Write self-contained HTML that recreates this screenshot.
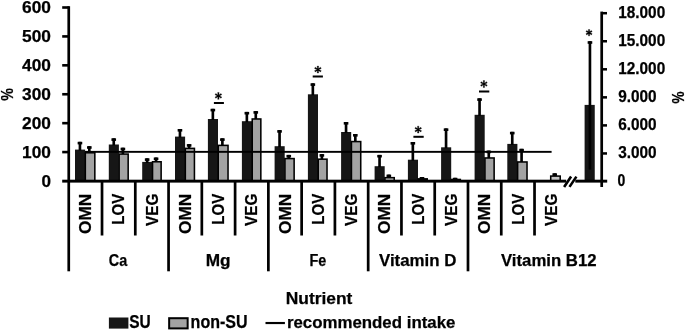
<!DOCTYPE html>
<html><head><meta charset="utf-8"><title>Chart</title>
<style>html,body{margin:0;padding:0;background:#fff;}body{width:685px;height:331px;overflow:hidden;font-family:"Liberation Sans",sans-serif;}text{stroke:#000;stroke-width:0.25px;stroke-linejoin:round;}</style>
</head><body>
<svg width="685" height="331" viewBox="0 0 685 331" style="display:block;will-change:transform;opacity:0.999">
<rect width="685" height="331" fill="#fff"/>
<g font-family="'Liberation Sans', sans-serif" font-weight="bold" fill="#000">
<rect x="75.00" y="149.60" width="10.1" height="31.40" fill="#161616"/>
<rect x="78.62" y="141.80" width="2.65" height="8.80" fill="#000"/>
<rect x="77.65" y="141.80" width="4.6" height="2.6" fill="#000"/>
<rect x="88.00" y="146.20" width="2.65" height="6.80" fill="#000"/>
<rect x="87.02" y="146.20" width="4.6" height="2.6" fill="#000"/>
<rect x="85.33" y="152.78" width="9.50" height="28.23" fill="#a3a3a3" stroke="#000" stroke-width="1.55"/>
<rect x="108.80" y="144.50" width="10.1" height="36.50" fill="#161616"/>
<rect x="112.42" y="138.30" width="2.65" height="7.20" fill="#000"/>
<rect x="111.45" y="138.30" width="4.6" height="2.6" fill="#000"/>
<rect x="121.57" y="147.70" width="2.65" height="6.60" fill="#000"/>
<rect x="120.60" y="147.70" width="4.6" height="2.6" fill="#000"/>
<rect x="119.12" y="154.08" width="9.05" height="26.92" fill="#a3a3a3" stroke="#000" stroke-width="1.55"/>
<rect x="142.20" y="161.90" width="10.1" height="19.10" fill="#161616"/>
<rect x="145.83" y="158.30" width="2.65" height="4.60" fill="#000"/>
<rect x="144.85" y="158.30" width="4.6" height="2.6" fill="#000"/>
<rect x="154.75" y="157.50" width="2.65" height="4.50" fill="#000"/>
<rect x="153.77" y="157.50" width="4.6" height="2.6" fill="#000"/>
<rect x="152.53" y="161.78" width="8.60" height="19.23" fill="#a3a3a3" stroke="#000" stroke-width="1.55"/>
<rect x="175.00" y="136.60" width="10.1" height="44.40" fill="#161616"/>
<rect x="178.63" y="129.00" width="2.65" height="8.60" fill="#000"/>
<rect x="177.65" y="129.00" width="4.6" height="2.6" fill="#000"/>
<rect x="187.80" y="144.10" width="2.65" height="4.50" fill="#000"/>
<rect x="186.82" y="144.10" width="4.6" height="2.6" fill="#000"/>
<rect x="185.33" y="148.38" width="9.10" height="32.63" fill="#a3a3a3" stroke="#000" stroke-width="1.55"/>
<rect x="207.90" y="119.00" width="10.1" height="62.00" fill="#161616"/>
<rect x="211.53" y="108.80" width="2.65" height="11.20" fill="#000"/>
<rect x="210.55" y="108.80" width="4.6" height="2.6" fill="#000"/>
<rect x="221.05" y="138.30" width="2.65" height="7.30" fill="#000"/>
<rect x="220.07" y="138.30" width="4.6" height="2.6" fill="#000"/>
<rect x="218.23" y="145.38" width="9.80" height="35.63" fill="#a3a3a3" stroke="#000" stroke-width="1.55"/>
<rect x="241.90" y="121.20" width="10.1" height="59.80" fill="#161616"/>
<rect x="245.53" y="111.90" width="2.65" height="10.30" fill="#000"/>
<rect x="244.55" y="111.90" width="4.6" height="2.6" fill="#000"/>
<rect x="254.45" y="111.10" width="2.65" height="8.10" fill="#000"/>
<rect x="253.48" y="111.10" width="4.6" height="2.6" fill="#000"/>
<rect x="252.23" y="118.98" width="8.60" height="62.02" fill="#a3a3a3" stroke="#000" stroke-width="1.55"/>
<rect x="274.60" y="146.20" width="10.1" height="34.80" fill="#161616"/>
<rect x="278.23" y="130.10" width="2.65" height="17.10" fill="#000"/>
<rect x="277.25" y="130.10" width="4.6" height="2.6" fill="#000"/>
<rect x="287.45" y="154.90" width="2.65" height="3.90" fill="#000"/>
<rect x="286.47" y="154.90" width="4.6" height="2.6" fill="#000"/>
<rect x="284.93" y="158.58" width="9.20" height="22.42" fill="#a3a3a3" stroke="#000" stroke-width="1.55"/>
<rect x="307.90" y="94.30" width="10.1" height="86.70" fill="#161616"/>
<rect x="311.52" y="83.30" width="2.65" height="12.00" fill="#000"/>
<rect x="310.55" y="83.30" width="4.6" height="2.6" fill="#000"/>
<rect x="320.55" y="154.10" width="2.65" height="5.30" fill="#000"/>
<rect x="319.57" y="154.10" width="4.6" height="2.6" fill="#000"/>
<rect x="318.22" y="159.18" width="8.80" height="21.82" fill="#a3a3a3" stroke="#000" stroke-width="1.55"/>
<rect x="341.10" y="132.00" width="10.1" height="49.00" fill="#161616"/>
<rect x="344.73" y="122.00" width="2.65" height="11.00" fill="#000"/>
<rect x="343.75" y="122.00" width="4.6" height="2.6" fill="#000"/>
<rect x="354.00" y="134.00" width="2.65" height="7.80" fill="#000"/>
<rect x="353.03" y="134.00" width="4.6" height="2.6" fill="#000"/>
<rect x="351.43" y="141.58" width="9.30" height="39.42" fill="#a3a3a3" stroke="#000" stroke-width="1.55"/>
<rect x="374.60" y="166.20" width="10.1" height="14.80" fill="#161616"/>
<rect x="378.23" y="154.90" width="2.65" height="12.30" fill="#000"/>
<rect x="377.25" y="154.90" width="4.6" height="2.6" fill="#000"/>
<rect x="387.50" y="174.60" width="2.65" height="3.30" fill="#000"/>
<rect x="386.53" y="174.60" width="4.6" height="2.6" fill="#000"/>
<rect x="384.93" y="177.68" width="9.30" height="3.32" fill="#c4c4c4" stroke="#000" stroke-width="1.55"/>
<rect x="407.90" y="159.70" width="10.1" height="21.30" fill="#161616"/>
<rect x="411.52" y="142.00" width="2.65" height="18.70" fill="#000"/>
<rect x="410.55" y="142.00" width="4.6" height="2.6" fill="#000"/>
<rect x="420.65" y="177.00" width="2.65" height="2.10" fill="#000"/>
<rect x="419.68" y="177.00" width="4.6" height="2.6" fill="#000"/>
<rect x="418.22" y="178.88" width="9.00" height="2.13" fill="#000" stroke="#000" stroke-width="1.55"/>
<rect x="441.10" y="147.30" width="10.1" height="33.70" fill="#161616"/>
<rect x="444.73" y="128.40" width="2.65" height="19.90" fill="#000"/>
<rect x="443.75" y="128.40" width="4.6" height="2.6" fill="#000"/>
<rect x="453.80" y="177.80" width="2.65" height="1.90" fill="#000"/>
<rect x="452.82" y="177.80" width="4.6" height="2.6" fill="#000"/>
<rect x="451.43" y="179.47" width="8.90" height="1.53" fill="#000" stroke="#000" stroke-width="1.55"/>
<rect x="474.60" y="114.80" width="10.1" height="66.20" fill="#161616"/>
<rect x="478.23" y="98.30" width="2.65" height="17.50" fill="#000"/>
<rect x="477.25" y="98.30" width="4.6" height="2.6" fill="#000"/>
<rect x="487.45" y="150.60" width="2.65" height="7.60" fill="#000"/>
<rect x="486.47" y="150.60" width="4.6" height="2.6" fill="#000"/>
<rect x="484.93" y="157.97" width="9.20" height="23.03" fill="#a3a3a3" stroke="#000" stroke-width="1.55"/>
<rect x="507.30" y="143.90" width="10.1" height="37.10" fill="#161616"/>
<rect x="510.93" y="131.80" width="2.65" height="13.10" fill="#000"/>
<rect x="509.95" y="131.80" width="4.6" height="2.6" fill="#000"/>
<rect x="520.25" y="148.80" width="2.65" height="13.40" fill="#000"/>
<rect x="519.28" y="148.80" width="4.6" height="2.6" fill="#000"/>
<rect x="517.62" y="161.97" width="9.40" height="19.03" fill="#a3a3a3" stroke="#000" stroke-width="1.55"/>
<rect x="553.40" y="173.30" width="2.65" height="3.00" fill="#000"/>
<rect x="552.42" y="173.30" width="4.6" height="2.6" fill="#000"/>
<rect x="550.72" y="176.08" width="9.50" height="4.92" fill="#c4c4c4" stroke="#000" stroke-width="1.55"/>
<rect x="584.6" y="104.9" width="10.15" height="76.10" fill="#161616"/>
<rect x="588.62" y="41.20" width="2.65" height="128.40" fill="#000"/>
<rect x="587.65" y="41.20" width="4.6" height="2.6" fill="#000"/>
<rect x="85.0" y="150.9" width="466.60" height="1.9" fill="#000"/>
<rect x="62.2" y="179.70" width="504.00" height="2.9" fill="#000"/>
<rect x="575.3" y="179.70" width="31.90" height="2.9" fill="#000"/>
<path d="M564.1 186.9 L571.1 176.6 M569.5 186.9 L576.4 176.6" stroke="#000" stroke-width="2.6" fill="none"/>
<rect x="67.40" y="6.2" width="2.7" height="265.10" fill="#000"/>
<text x="50.9" y="186.60" font-size="17.1" text-anchor="end">0</text>
<rect x="62.2" y="150.78" width="6.6" height="2.6" fill="#000"/>
<text x="50.9" y="157.68" font-size="17.1" text-anchor="end" textLength="28.9" lengthAdjust="spacingAndGlyphs">100</text>
<rect x="62.2" y="121.87" width="6.6" height="2.6" fill="#000"/>
<text x="50.9" y="128.77" font-size="17.1" text-anchor="end" textLength="28.9" lengthAdjust="spacingAndGlyphs">200</text>
<rect x="62.2" y="92.95" width="6.6" height="2.6" fill="#000"/>
<text x="50.9" y="99.85" font-size="17.1" text-anchor="end" textLength="28.9" lengthAdjust="spacingAndGlyphs">300</text>
<rect x="62.2" y="64.03" width="6.6" height="2.6" fill="#000"/>
<text x="50.9" y="70.93" font-size="17.1" text-anchor="end" textLength="28.9" lengthAdjust="spacingAndGlyphs">400</text>
<rect x="62.2" y="35.12" width="6.6" height="2.6" fill="#000"/>
<text x="50.9" y="42.02" font-size="17.1" text-anchor="end" textLength="28.9" lengthAdjust="spacingAndGlyphs">500</text>
<rect x="62.2" y="6.20" width="6.6" height="2.6" fill="#000"/>
<text x="50.9" y="13.10" font-size="17.1" text-anchor="end" textLength="28.9" lengthAdjust="spacingAndGlyphs">600</text>
<rect x="600.35" y="11.6" width="2.7" height="175.40" fill="#000"/>
<text x="617.6" y="186.30" font-size="15.7" textLength="7.8" lengthAdjust="spacingAndGlyphs">0</text>
<rect x="601.70" y="152.20" width="5.30" height="2.5" fill="#000"/>
<text x="618.2" y="158.25" font-size="15.7" textLength="38.5" lengthAdjust="spacingAndGlyphs">3.000</text>
<rect x="601.70" y="124.15" width="5.30" height="2.5" fill="#000"/>
<text x="618.2" y="130.20" font-size="15.7" textLength="38.5" lengthAdjust="spacingAndGlyphs">6.000</text>
<rect x="601.70" y="96.10" width="5.30" height="2.5" fill="#000"/>
<text x="618.2" y="102.15" font-size="15.7" textLength="38.5" lengthAdjust="spacingAndGlyphs">9.000</text>
<rect x="601.70" y="68.05" width="5.30" height="2.5" fill="#000"/>
<text x="618.2" y="74.10" font-size="15.7" textLength="47.0" lengthAdjust="spacingAndGlyphs">12.000</text>
<rect x="601.70" y="40.00" width="5.30" height="2.5" fill="#000"/>
<text x="618.2" y="46.05" font-size="15.7" textLength="47.0" lengthAdjust="spacingAndGlyphs">15.000</text>
<rect x="601.70" y="11.95" width="5.30" height="2.5" fill="#000"/>
<text x="618.2" y="18.00" font-size="15.7" textLength="47.0" lengthAdjust="spacingAndGlyphs">18.000</text>
<rect x="100.67" y="181.00" width="2.7" height="54.50" fill="#000"/>
<rect x="133.94" y="181.00" width="2.7" height="54.50" fill="#000"/>
<rect x="167.21" y="181.00" width="2.7" height="90.30" fill="#000"/>
<rect x="200.48" y="181.00" width="2.7" height="54.50" fill="#000"/>
<rect x="233.75" y="181.00" width="2.7" height="54.50" fill="#000"/>
<rect x="267.02" y="181.00" width="2.7" height="90.30" fill="#000"/>
<rect x="300.29" y="181.00" width="2.7" height="54.50" fill="#000"/>
<rect x="333.56" y="181.00" width="2.7" height="54.50" fill="#000"/>
<rect x="366.83" y="181.00" width="2.7" height="90.30" fill="#000"/>
<rect x="400.10" y="181.00" width="2.7" height="54.50" fill="#000"/>
<rect x="433.37" y="181.00" width="2.7" height="54.50" fill="#000"/>
<rect x="466.64" y="181.00" width="2.7" height="90.30" fill="#000"/>
<rect x="499.91" y="181.00" width="2.7" height="54.50" fill="#000"/>
<rect x="533.18" y="181.00" width="2.7" height="54.50" fill="#000"/>
<text transform="translate(91.05 193.7) rotate(-90)" font-size="16.8" text-anchor="end" textLength="40.2" lengthAdjust="spacingAndGlyphs">OMN</text>
<text transform="translate(124.32 193.7) rotate(-90)" font-size="16.8" text-anchor="end" textLength="31.0" lengthAdjust="spacingAndGlyphs">LOV</text>
<text transform="translate(157.59 193.7) rotate(-90)" font-size="16.8" text-anchor="end" textLength="32.2" lengthAdjust="spacingAndGlyphs">VEG</text>
<text transform="translate(190.86 193.7) rotate(-90)" font-size="16.8" text-anchor="end" textLength="40.2" lengthAdjust="spacingAndGlyphs">OMN</text>
<text transform="translate(224.13 193.7) rotate(-90)" font-size="16.8" text-anchor="end" textLength="31.0" lengthAdjust="spacingAndGlyphs">LOV</text>
<text transform="translate(257.40 193.7) rotate(-90)" font-size="16.8" text-anchor="end" textLength="32.2" lengthAdjust="spacingAndGlyphs">VEG</text>
<text transform="translate(290.67 193.7) rotate(-90)" font-size="16.8" text-anchor="end" textLength="40.2" lengthAdjust="spacingAndGlyphs">OMN</text>
<text transform="translate(323.94 193.7) rotate(-90)" font-size="16.8" text-anchor="end" textLength="31.0" lengthAdjust="spacingAndGlyphs">LOV</text>
<text transform="translate(357.21 193.7) rotate(-90)" font-size="16.8" text-anchor="end" textLength="32.2" lengthAdjust="spacingAndGlyphs">VEG</text>
<text transform="translate(390.48 193.7) rotate(-90)" font-size="16.8" text-anchor="end" textLength="40.2" lengthAdjust="spacingAndGlyphs">OMN</text>
<text transform="translate(423.75 193.7) rotate(-90)" font-size="16.8" text-anchor="end" textLength="31.0" lengthAdjust="spacingAndGlyphs">LOV</text>
<text transform="translate(457.02 193.7) rotate(-90)" font-size="16.8" text-anchor="end" textLength="32.2" lengthAdjust="spacingAndGlyphs">VEG</text>
<text transform="translate(490.29 193.7) rotate(-90)" font-size="16.8" text-anchor="end" textLength="40.2" lengthAdjust="spacingAndGlyphs">OMN</text>
<text transform="translate(523.56 193.7) rotate(-90)" font-size="16.8" text-anchor="end" textLength="31.0" lengthAdjust="spacingAndGlyphs">LOV</text>
<text transform="translate(556.83 193.7) rotate(-90)" font-size="16.8" text-anchor="end" textLength="32.2" lengthAdjust="spacingAndGlyphs">VEG</text>
<text x="108.80" y="266.1" font-size="16.8" textLength="18.4" lengthAdjust="spacingAndGlyphs">Ca</text>
<text x="205.75" y="266.1" font-size="16.8" textLength="24.9" lengthAdjust="spacingAndGlyphs">Mg</text>
<text x="309.50" y="266.1" font-size="16.8" textLength="16.8" lengthAdjust="spacingAndGlyphs">Fe</text>
<text x="378.95" y="266.1" font-size="16.8" textLength="77.5" lengthAdjust="spacingAndGlyphs">Vitamin D</text>
<text x="500.95" y="266.1" font-size="16.8" textLength="95.7" lengthAdjust="spacingAndGlyphs">Vitamin B12</text>
<text transform="translate(13.2 94.4) rotate(-90)" font-size="16.8" text-anchor="middle" textLength="12.6" lengthAdjust="spacingAndGlyphs">%</text>
<text transform="translate(683.7 97.4) rotate(-90)" font-size="16.4" text-anchor="middle" textLength="12.0" lengthAdjust="spacingAndGlyphs">%</text>
<path d="M218.80 95.90 L219.12 92.45 L217.68 92.45 L218.00 95.90 Z M218.60 96.25 L221.75 94.80 L221.03 93.55 L218.20 95.55 Z M218.20 96.25 L221.03 98.25 L221.75 97.00 L218.60 95.55 Z M218.00 95.90 L217.68 99.35 L219.12 99.35 L218.80 95.90 Z M218.20 95.55 L215.05 97.00 L215.77 98.25 L218.60 96.25 Z M218.60 95.55 L215.77 93.55 L215.05 94.80 L218.20 96.25 Z " fill="#000" stroke="#000" stroke-width="0.32" stroke-linejoin="round"/>
<circle cx="218.4" cy="95.9" r="0.9" fill="#000"/>
<rect x="213.9" y="102.00" width="10.00" height="2.0" fill="#000"/>
<path d="M318.30 69.55 L318.62 66.10 L317.18 66.10 L317.50 69.55 Z M318.10 69.90 L321.25 68.45 L320.53 67.20 L317.70 69.20 Z M317.70 69.90 L320.53 71.90 L321.25 70.65 L318.10 69.20 Z M317.50 69.55 L317.18 73.00 L318.62 73.00 L318.30 69.55 Z M317.70 69.20 L314.55 70.65 L315.27 71.90 L318.10 69.90 Z M318.10 69.20 L315.27 67.20 L314.55 68.45 L317.70 69.90 Z " fill="#000" stroke="#000" stroke-width="0.32" stroke-linejoin="round"/>
<circle cx="317.9" cy="69.55" r="0.9" fill="#000"/>
<rect x="312.7" y="75.50" width="10.20" height="2.0" fill="#000"/>
<path d="M418.60 129.60 L418.92 126.15 L417.48 126.15 L417.80 129.60 Z M418.40 129.95 L421.55 128.50 L420.83 127.25 L418.00 129.25 Z M418.00 129.95 L420.83 131.95 L421.55 130.70 L418.40 129.25 Z M417.80 129.60 L417.48 133.05 L418.92 133.05 L418.60 129.60 Z M418.00 129.25 L414.85 130.70 L415.57 131.95 L418.40 129.95 Z M418.40 129.25 L415.57 127.25 L414.85 128.50 L418.00 129.95 Z " fill="#000" stroke="#000" stroke-width="0.32" stroke-linejoin="round"/>
<circle cx="418.2" cy="129.6" r="0.9" fill="#000"/>
<rect x="413.4" y="135.80" width="10.30" height="2.0" fill="#000"/>
<path d="M484.30 84.00 L484.62 80.55 L483.18 80.55 L483.50 84.00 Z M484.10 84.35 L487.25 82.90 L486.53 81.65 L483.70 83.65 Z M483.70 84.35 L486.53 86.35 L487.25 85.10 L484.10 83.65 Z M483.50 84.00 L483.18 87.45 L484.62 87.45 L484.30 84.00 Z M483.70 83.65 L480.55 85.10 L481.27 86.35 L484.10 84.35 Z M484.10 83.65 L481.27 81.65 L480.55 82.90 L483.70 84.35 Z " fill="#000" stroke="#000" stroke-width="0.32" stroke-linejoin="round"/>
<circle cx="483.9" cy="84.0" r="0.9" fill="#000"/>
<rect x="479.0" y="90.50" width="10.30" height="2.0" fill="#000"/>
<path d="M589.45 32.70 L589.77 29.55 L588.33 29.55 L588.65 32.70 Z M589.25 33.05 L592.14 31.75 L591.42 30.50 L588.85 32.35 Z M588.85 33.05 L591.42 34.90 L592.14 33.65 L589.25 32.35 Z M588.65 32.70 L588.33 35.85 L589.77 35.85 L589.45 32.70 Z M588.85 32.35 L585.96 33.65 L586.68 34.90 L589.25 33.05 Z M589.25 32.35 L586.68 30.50 L585.96 31.75 L588.85 33.05 Z " fill="#000" stroke="#000" stroke-width="0.32" stroke-linejoin="round"/>
<circle cx="589.05" cy="32.7" r="0.9" fill="#000"/>
<text x="285.7" y="303.8" font-size="17.1" textLength="66.7" lengthAdjust="spacingAndGlyphs">Nutrient</text>
<rect x="108.9" y="317.5" width="19.5" height="11.1" fill="#161616"/>
<text x="129.2" y="328.3" font-size="17.6" textLength="21.5" lengthAdjust="spacingAndGlyphs">SU</text>
<rect x="169.15" y="318.2" width="18.5" height="10.2" fill="#a3a3a3" stroke="#000" stroke-width="2.0"/>
<text x="190.6" y="328.3" font-size="17.6" textLength="57.0" lengthAdjust="spacingAndGlyphs">non-SU</text>
<rect x="265.5" y="321.95" width="19.4" height="2.15" fill="#000"/>
<text x="286.9" y="328.2" font-size="17.2" textLength="168.5" lengthAdjust="spacingAndGlyphs">recommended intake</text>
</g></svg>
</body></html>
